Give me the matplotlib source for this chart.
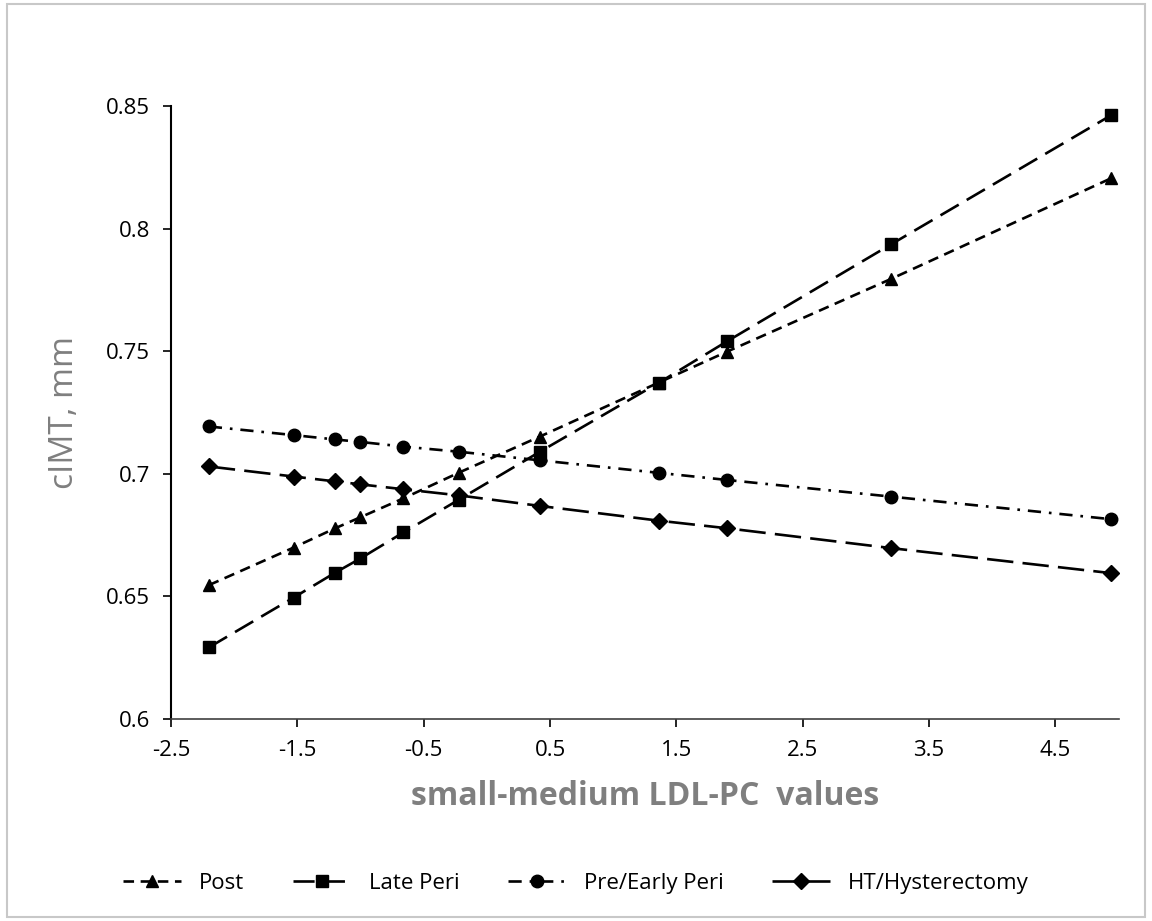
import numpy as np
import matplotlib.pyplot as plt
from matplotlib.patches import Rectangle

# x positions (small-medium LDL-PC values) shared by every group
ldl_vals = [-2.20, -1.53, -1.20, -1.00, -0.66, -0.22, 0.42, 1.36, 1.90, 3.20, 4.94]

post = [0.6546, 0.6699, 0.6778, 0.6823, 0.6900, 0.7005, 0.7152, 0.7372, 0.7498, 0.7795, 0.8205]
late_peri = [0.6292, 0.6495, 0.6597, 0.6655, 0.6761, 0.6895, 0.7090, 0.7371, 0.7540, 0.7936, 0.8462]
pre_early = [0.7193, 0.7158, 0.7140, 0.7130, 0.7111, 0.7090, 0.7055, 0.7004, 0.6975, 0.6907, 0.6815]
ht_hyst = [0.7030, 0.6989, 0.6969, 0.6957, 0.6937, 0.6912, 0.6869, 0.6809, 0.6778, 0.6697, 0.6595]

labels = ['Post', 'Late Peri', 'Pre/Early Peri', 'HT/Hysterectomy']
xticks = [-2.5, -1.5, -0.5, 0.5, 1.5, 2.5, 3.5, 4.5]
yticks = [0.6, 0.65, 0.7, 0.75, 0.8, 0.85]
ytick_labels = ['0.6', '0.65', '0.7', '0.75', '0.8', '0.85']

plt.rcParams['font.family'] = ['Open Sans', 'DejaVu Sans']

fig = plt.figure(figsize=(11.52, 9.21), dpi=100)
ax = fig.add_axes([0.1484, 0.2193, 0.9710 - 0.1484, 0.8849 - 0.2193])

lw = 1.9
ax.plot(ldl_vals, post, color='black', lw=lw, dashes=(4, 2.5), marker='^', ms=9, label=labels[0])
ax.plot(ldl_vals, late_peri, color='black', lw=lw, dashes=(8, 3.5), marker='s', ms=9, label=labels[1])
ax.plot(ldl_vals, pre_early, color='black', lw=lw, dashes=(5, 3, 1, 3), marker='o', ms=9, label=labels[2])
ax.plot(ldl_vals, ht_hyst, color='black', lw=lw, dashes=(10, 3.5), marker='D', ms=8.5, label=labels[3])

ax.set_xlim(-2.5, 5.0)
ax.set_ylim(0.6, 0.85)
ax.set_xticks(xticks)
ax.set_xticklabels([f'{t:g}' for t in xticks])
ax.set_yticks(yticks)
ax.set_yticklabels(ytick_labels)

for side in ['top', 'right']:
    ax.spines[side].set_visible(False)
ax.spines['left'].set_color('black')
ax.spines['left'].set_linewidth(1.5)
ax.spines['bottom'].set_color('#404040')
ax.spines['bottom'].set_linewidth(1.2)
ax.tick_params(axis='both', direction='out', length=6, width=1.2, labelsize=16, pad=9)

ax.set_xlabel('small-medium LDL-PC  values', fontsize=23, fontweight='bold', color='#7f7f7f', labelpad=14)
ax.set_ylabel('cIMT, mm', fontsize=24, color='#7f7f7f', labelpad=18)

fig.legend(loc='center', bbox_to_anchor=(0.5, 0.041), ncol=4, frameon=False,
           fontsize=16, handlelength=2.6, columnspacing=2.2, handletextpad=0.8)

fig.patches.append(Rectangle((0.006, 0.004), 0.988, 0.992, transform=fig.transFigure,
                             fill=False, edgecolor='#c8c8c8', lw=1.5))

fig.savefig('out.png', dpi=100)
